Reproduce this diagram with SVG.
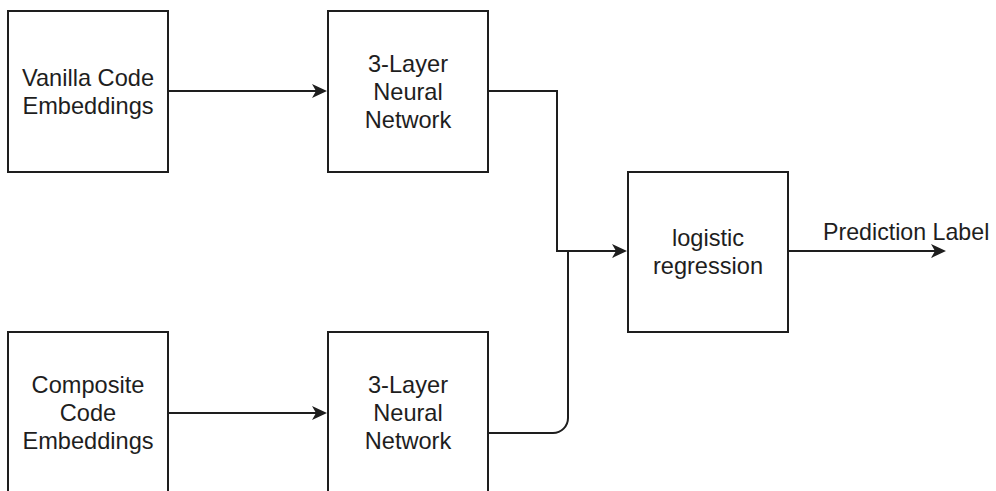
<svg xmlns="http://www.w3.org/2000/svg" width="996" height="491" viewBox="0 0 996 491">
  <style>
    .box { fill: #ffffff; stroke: #1e1e1e; stroke-width: 2; }
    .lbl { font-family: "Liberation Sans", Arial, Helvetica, sans-serif; font-size: 23.6px; fill: #1e1e1e; text-anchor: middle; }
    .edge { fill: none; stroke: #1e1e1e; stroke-width: 2; }
    .elbl { font-family: "Liberation Sans", Arial, Helvetica, sans-serif; font-size: 23.2px; fill: #1e1e1e; }
  </style>
  <defs>
    <marker id="arrow" markerUnits="userSpaceOnUse" markerWidth="17" markerHeight="17" viewBox="0 0 17 17" refX="11" refY="8.5" orient="auto">
      <path d="M0,1.5 L15,8.5 L0,15.5 L4,8.5 Z" fill="#1e1e1e"/>
    </marker>
  </defs>
  <rect width="996" height="491" fill="#ffffff"/>

  <g id="vanilla">
    <rect class="box" x="8" y="11" width="160" height="161"/>
    <text class="lbl" x="88" y="86">Vanilla Code</text>
    <text class="lbl" x="88" y="114">Embeddings</text>
  </g>
  <g id="nn-top">
    <rect class="box" x="328" y="11" width="160" height="161"/>
    <text class="lbl" x="408" y="72">3-Layer</text>
    <text class="lbl" x="408" y="100">Neural</text>
    <text class="lbl" x="408" y="128">Network</text>
  </g>
  <g id="logreg">
    <rect class="box" x="628" y="172" width="160" height="160"/>
    <text class="lbl" x="708" y="246">logistic</text>
    <text class="lbl" x="708" y="274">regression</text>
  </g>
  <g id="composite">
    <rect class="box" x="8" y="332" width="160" height="170"/>
    <text class="lbl" x="88" y="393">Composite</text>
    <text class="lbl" x="88" y="421">Code</text>
    <text class="lbl" x="88" y="449">Embeddings</text>
  </g>
  <g id="nn-bottom">
    <rect class="box" x="328" y="332" width="160" height="170"/>
    <text class="lbl" x="408" y="393">3-Layer</text>
    <text class="lbl" x="408" y="421">Neural</text>
    <text class="lbl" x="408" y="449">Network</text>
  </g>

  <g id="connectors">
    <path class="edge" d="M168,91 H323" marker-end="url(#arrow)"/>
    <path class="edge" d="M168,413 H323" marker-end="url(#arrow)"/>
    <path class="edge" d="M488,91 H557 V251 H623" marker-end="url(#arrow)"/>
    <path class="edge" d="M488,433 H553 A15,15 0 0 0 568,418 V251"/>
    <path class="edge" d="M788,251 H942" marker-end="url(#arrow)"/>
    <text class="elbl" x="823" y="240">Prediction Label</text>
  </g>
</svg>
